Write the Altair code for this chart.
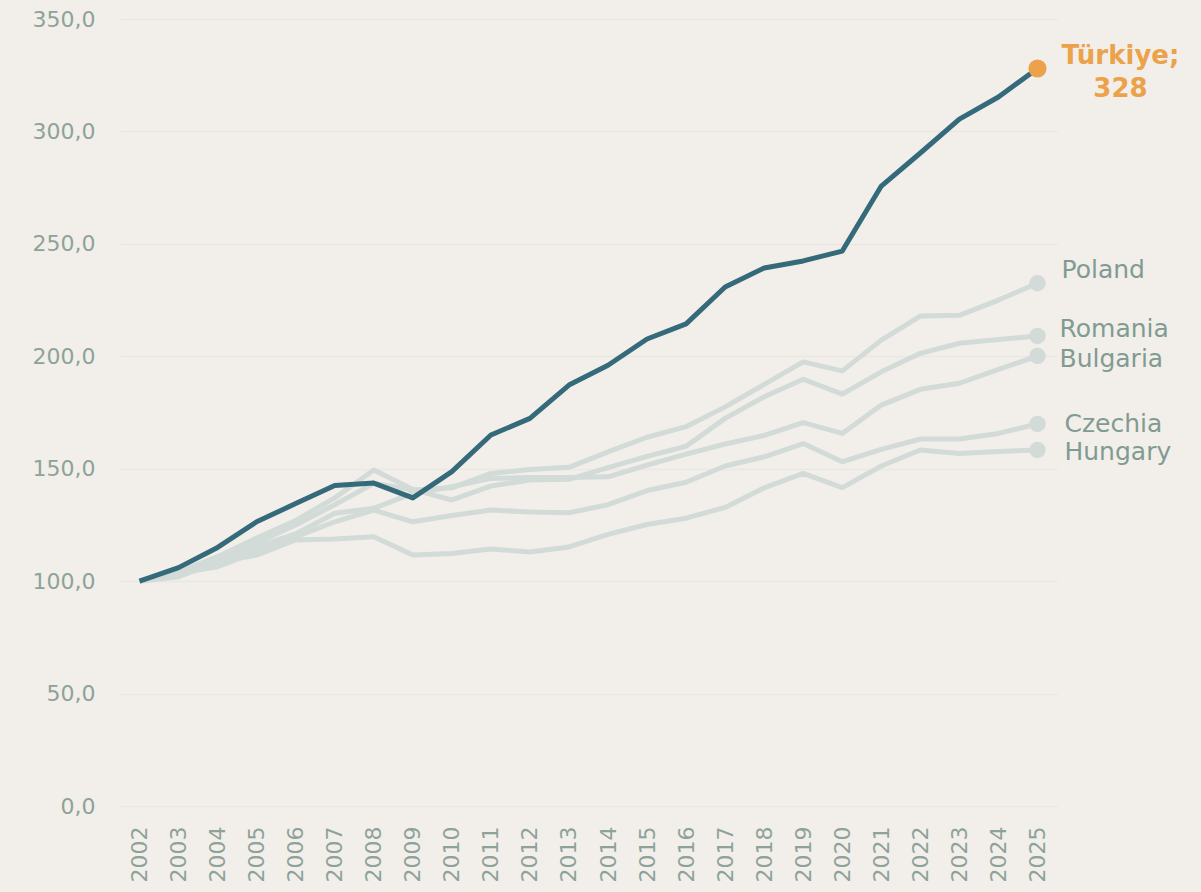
import altair as alt
import pandas as pd

years = list(range(2002, 2026))

turkiye = [100, 106, 115, 126.4, 134.5, 142.5, 143.6, 137, 148.7, 165, 172.4, 187.2,
           196, 207.7, 214.4, 230.8, 239.3, 242.4, 246.8, 275.7, 290.4, 305.5, 315.3, 328]
poland = [100, 104.5, 110, 117, 125, 134, 143.5, 140.5, 141.5, 147.9, 149.7, 150.6,
          157.5, 164, 168.7, 177.5, 187.5, 197.5, 193.5, 207.2, 217.9, 218.2, 225, 232.5]
romania = [100, 104, 110.9, 119.2, 127, 137, 149.4, 140.8, 136.1, 142.3, 145, 145.3,
           150.5, 155.5, 160, 172.4, 182, 189.8, 183.2, 193.1, 201.3, 205.8, 207.5, 209]
bulgaria = [100, 104.5, 108, 115.2, 121, 130.2, 132.4, 139, 142, 145.7, 146.1, 146.1,
            146.4, 151.6, 156.5, 161, 164.8, 170.5, 165.7, 178.3, 185.3, 188, 194.2, 200.1]
czechia = [100, 103.5, 106.4, 113, 119.7, 126.4, 131.6, 126.4, 129.2, 131.6, 130.8, 130.4,
           134, 140.3, 144, 151.2, 155.3, 161.2, 153.1, 158.6, 163.2, 163.2, 165.7, 169.9]
hungary = [100, 102, 108.5, 111.6, 118.3, 118.7, 119.7, 111.6, 112.3, 114.3, 113, 115.2,
           120.8, 125.2, 128, 132.8, 141.5, 147.9, 141.6, 151.2, 158.3, 156.8, 157.7, 158.3]

y_ticks = [0, 50, 100, 150, 200, 250, 300, 350]

series = {
    "Türkiye": turkiye,
    "Poland": poland,
    "Romania": romania,
    "Bulgaria": bulgaria,
    "Czechia": czechia,
    "Hungary": hungary,
}

rows = []
for country, vals in series.items():
    for yr, v in zip(years, vals):
        rows.append({"year": yr, "country": country, "value": v})
df = pd.DataFrame(rows)

last_year = years[-1]

FONT = "DejaVu Sans"
AXIS_COLOR = "#8ea29a"
GREY = "#d2dbd8"
DARK = "#356a7a"
ORANGE = "#eca24a"
BG = "#f2efea"

x_enc = alt.X("year:O", scale=alt.Scale(type="point", padding=0.5),
              axis=alt.Axis(title=None, labelAngle=-90, labelFontSize=22, labelColor=AXIS_COLOR,
                            labelFont=FONT, ticks=False, domain=False,
                            grid=False, labelPadding=20))
y_enc = alt.Y("value:Q", scale=alt.Scale(domain=[0, 350], nice=False, zero=True),
              axis=alt.Axis(title=None, values=y_ticks, labelFontSize=22, labelColor=AXIS_COLOR,
                            labelFont=FONT, ticks=False, domain=False,
                            grid=True, gridColor="#e9e8e2", gridWidth=1.5, labelPadding=25,
                            labelExpr="replace(format(datum.value, '.1f'), '.', ',')"))

base = alt.Chart(df)

others = base.transform_filter(alt.datum.country != "Türkiye")
tur = base.transform_filter(alt.datum.country == "Türkiye")

grey_lines = others.mark_line(strokeWidth=5, color=GREY, strokeJoin="round").encode(
    x=x_enc, y=y_enc, detail="country:N")
dark_line = tur.mark_line(strokeWidth=5, color=DARK, strokeJoin="round").encode(
    x=x_enc, y=y_enc)

grey_pts = others.transform_filter(alt.datum.year == last_year).mark_circle(
    size=270, color=GREY, opacity=1).encode(x=x_enc, y=y_enc)
orange_pt = tur.transform_filter(alt.datum.year == last_year).mark_circle(
    size=330, color=ORANGE, opacity=1).encode(x=x_enc, y=y_enc)

tur_label = tur.transform_filter(alt.datum.year == last_year).transform_calculate(
    lab="datum.country + ';\\n' + format(datum.value, '.0f')"
).mark_text(align="center", baseline="middle", dx=83, dy=-12, fontSize=26, fontWeight="bold",
            font=FONT, color=ORANGE, lineBreak="\n", lineHeight=33).encode(
    x=x_enc, y=y_enc, text="lab:N")

label_offsets = {
    "Poland": (24, -13),
    "Romania": (22, -7),
    "Bulgaria": (22, 3),
    "Czechia": (27, 0),
    "Hungary": (27, 2),
}

labels = []
for c, (ddx, ddy) in label_offsets.items():
    labels.append(
        base.transform_filter((alt.datum.country == c) & (alt.datum.year == last_year))
        .mark_text(align="left", baseline="middle", dx=ddx, dy=ddy, fontSize=25,
                   font=FONT, color="#819b93")
        .encode(x=x_enc, y=y_enc, text="country:N")
    )

chart = alt.layer(grey_lines, dark_line, grey_pts, orange_pt, tur_label, *labels).properties(
    width=937, height=787,
    padding={"left": 120, "top": 19, "right": 144, "bottom": 86},
    autosize="none",
    background=BG,
).configure_view(stroke=None)

chart.save("out.html", embed_options={
    "renderer": "svg", "actions": False,
    "defaultStyle": "body{margin:0 !important;background:%s;overflow:hidden;} .vega-embed{display:block;}" % BG,
})
